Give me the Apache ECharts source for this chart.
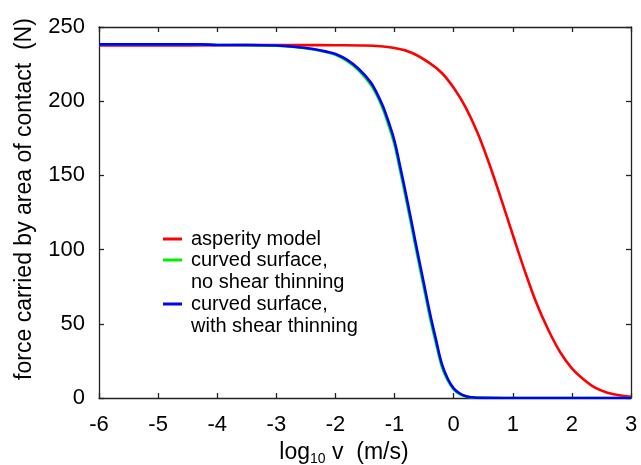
<!DOCTYPE html>
<html>
<head>
<meta charset="utf-8">
<script src="https://cdn.jsdelivr.net/npm/echarts@6/dist/echarts.min.js"></script>
<style>
html,body{margin:0;padding:0;background:#fff;}
#chart{width:641px;height:465px;}
</style>
</head>
<body>
<div id="chart"></div>
<script>
// log10 v (m/s) and force (N)
var asperityX = [-6, -5, -4, -3, -2.5, -2, -1.5, -1.0, -0.7, -0.4, -0.2, 0.0, 0.2, 0.4, 0.6, 0.8, 1.0, 1.2, 1.4, 1.6, 1.8, 2.0, 2.2, 2.4, 2.6, 2.8, 3.0];
var asperityY = [237.6, 237.6, 237.7, 237.8, 237.8, 237.7, 237.5, 235.8, 232.5, 225.5, 219, 209, 196, 179, 158, 134.5, 110, 86, 64, 46, 31, 20, 12.5, 6.8, 3.6, 1.8, 0.8];

var curvedX = [-6, -5, -4.3, -4, -3.5, -3, -2.7, -2.4, -2.15, -2.0, -1.8, -1.6, -1.4, -1.3, -1.2, -1.1, -1.0, -0.9, -0.8, -0.7, -0.6, -0.5, -0.4, -0.3, -0.2, -0.1, 0.0, 0.1, 0.2, 0.3, 0.5, 1.0, 2.0, 3.0];
var noThinY = [238.3, 238.3, 238.3, 237.9, 237.8, 237.4, 236.5, 235.0, 233.0, 231.2, 227.0, 220.5, 211.0, 204.0, 195.0, 183.5, 170.5, 152.0, 133.0, 113.0, 93.0, 73.5, 54.0, 37.0, 21.0, 11.8, 5.8, 2.6, 1.0, 0.4, 0.1, 0, 0, 0];
var withThinY = [238.3, 238.3, 238.3, 237.9, 237.9, 237.5, 236.7, 235.3, 233.4, 231.8, 227.8, 221.5, 212.5, 205.5, 197.0, 186.0, 173.0, 155.0, 136.0, 116.0, 96.0, 76.5, 57.0, 39.5, 23.0, 13.0, 6.5, 3.2, 1.3, 0.5, 0.1, 0, 0, 0];

var xTicks = [-6, -5, -4, -3, -2, -1, 0, 1, 2, 3];
var yTicks = [0, 50, 100, 150, 200, 250];

var seriesNames = ['asperity model', 'curved surface,\nno shear thinning', 'curved surface,\nwith shear thinning'];
var seriesColors = ['#ff0000', '#00ee00', '#0000ff'];

function pairs(xs, ys) { return xs.map(function (x, i) { return [x, ys[i]]; }); }

var FONT = 'Liberation Sans, Arial, Helvetica, sans-serif';
var axisCol = '#222';

var baseAxis = function (extra) {
  return Object.assign({
    type: 'value',
    axisLine: { show: true, onZero: false, lineStyle: { color: axisCol, width: 1.3 } },
    axisTick: { show: true, inside: true, length: 5, lineStyle: { color: axisCol, width: 1.3 } },
    splitLine: { show: false },
    axisLabel: { color: '#000', fontSize: 22, fontFamily: FONT }
  }, extra);
};

var chart = echarts.init(document.getElementById('chart'), null, { renderer: 'canvas' });

function legendItem(i, top) {
  return {
    show: true,
    orient: 'vertical',
    left: 163,
    top: top,
    padding: 0,
    itemWidth: 19,
    itemHeight: 3,
    icon: 'rect',
    data: [seriesNames[i]],
    formatter: function (name) {
      return name.indexOf('\n') >= 0 ? '\n' + name : name;
    },
    textStyle: { color: '#000', fontSize: 20, lineHeight: 22, fontFamily: FONT, padding: [0, 0, 0, 4] }
  };
}

chart.setOption({
  animation: false,
  backgroundColor: '#fff',
  grid: { left: 99, right: 10, top: 27, bottom: 67, containLabel: false, outerBoundsMode: 'none' },
  legend: [legendItem(0, 228), legendItem(1, 227), legendItem(2, 271)],
  xAxis: [
    baseAxis({
      min: xTicks[0], max: xTicks[xTicks.length - 1], interval: 1,
      axisLabel: { color: '#000', fontSize: 22, fontFamily: FONT, margin: 16 },
      name: '{n|log}{s|10}{n| v  (m/s)}',
      nameLocation: 'middle',
      nameGap: 38,
      nameTextStyle: {
        padding: [0, 42, 0, 0],
        rich: {
          n: { fontSize: 23, fontFamily: FONT, color: '#000', lineHeight: 28 },
          s: { fontSize: 14, fontFamily: FONT, color: '#000', lineHeight: 8, verticalAlign: 'bottom' }
        }
      }
    }),
    baseAxis({
      position: 'top',
      min: xTicks[0], max: xTicks[xTicks.length - 1], interval: 1,
      axisLabel: { show: false }
    })
  ],
  yAxis: [
    baseAxis({
      min: yTicks[0], max: yTicks[yTicks.length - 1], interval: 50,
      axisLabel: { color: '#000', fontSize: 22, fontFamily: FONT, margin: 14 },
      name: 'force carried by area of contact  (N)',
      nameLocation: 'middle',
      nameGap: 63,
      nameTextStyle: { color: '#000', fontSize: 23, fontFamily: FONT, padding: [0, 0, 0, 27] }
    }),
    baseAxis({
      position: 'right',
      min: yTicks[0], max: yTicks[yTicks.length - 1], interval: 50,
      axisLabel: { show: false }
    })
  ],
  series: [0, 1, 2].map(function (i) {
    var ys = [asperityY, noThinY, withThinY][i];
    var xs = i === 0 ? asperityX : curvedX;
    return {
      name: seriesNames[i],
      type: 'line',
      data: pairs(xs, ys),
      smooth: 0.35,
      showSymbol: false,
      symbol: 'none',
      lineStyle: { color: seriesColors[i], width: 2.6 },
      itemStyle: { color: seriesColors[i] },
      z: 2 + i
    };
  })
});
</script>
</body>
</html>
